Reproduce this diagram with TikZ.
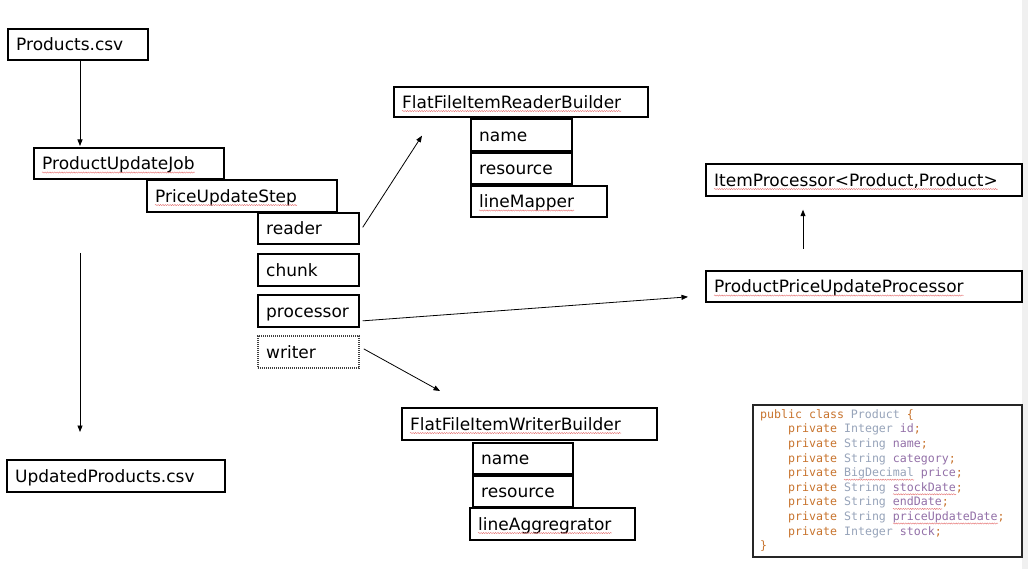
\documentclass[tikz,border=0pt]{standalone}
\usepackage{fontspec}
\setmainfont{DejaVu Sans}
\newfontfamily\codefont{DejaVu Sans Mono}
\usetikzlibrary{arrows.meta,calc,decorations.pathmorphing}
\definecolor{kw}{HTML}{C8742E}
\definecolor{ty}{HTML}{97A4BA}
\definecolor{pu}{HTML}{9370A8}
\definecolor{sqred}{HTML}{E57070}
\newcommand\mkbox[7][]{%
  \node[box,#1,minimum width=#5pt,minimum height=#6pt] (#2) at (#3,#4) {};
  \node[lbl] (#2t) at ([xshift=9pt]#2.west) {#7};}
\newcommand\sq[1]{\draw[spell] ([yshift=-3pt]#1.base west) -- ([yshift=-3pt]#1.base east);}
\newcommand\cl[3]{\node[codeline] (c#1) at (#2,418.3+14.6*#1) {#3};}
\begin{document}
\begin{tikzpicture}[x=1pt,y=-1pt,
  box/.style={draw=black,line width=1.7pt,inner sep=0pt,anchor=north west},
  dotbox/.style={draw=black!75,dash pattern=on 1.2pt off 0.8pt},
  lbl/.style={inner sep=0pt,anchor=west,font=\fontsize{17}{20}\selectfont,text height=12.4pt,text depth=0pt},
  codeline/.style={inner sep=0pt,anchor=base west,font=\codefont\fontsize{11.6}{14}\selectfont},
  arr/.style={-{Triangle[length=6.5pt,width=5pt]},line width=0.8pt},
  spell/.style={draw=sqred,line width=0.4pt,decorate,decoration={snake,amplitude=0.6pt,segment length=2.4pt}}]
\useasboundingbox (0,0) rectangle (1028,569);
\fill[white] (0,0) rectangle (1028,569);
\fill[black!6] (1021.5,0) rectangle (1028,569);

% left column
\mkbox{csv}{7}{28}{140}{31}{Products.csv}
\mkbox{job}{33}{147}{190}{31}{ProductUpdateJob}
\mkbox{step}{146}{179}{190}{32}{PriceUpdateStep}
\mkbox{reader}{257}{212}{101}{31}{reader}
\mkbox{chunk}{257}{253}{101}{32}{chunk}
\mkbox{proc}{257}{294}{101}{32}{processor}
\mkbox[dotbox]{writer}{257}{335}{101}{32}{writer}
\mkbox{upd}{6}{459}{218}{32}{UpdatedProducts.csv}

% reader builder
\mkbox{rb}{393}{86}{254}{30}{FlatFileItemReaderBuilder}
\mkbox{rname}{470}{118}{101}{32}{name}
\mkbox{rres}{470}{152}{101}{31}{resource}
\mkbox{rmap}{470}{185}{136}{31}{lineMapper}

% writer builder
\mkbox{wb}{401}{407}{255}{32}{FlatFileItemWriterBuilder}
\mkbox{wname}{472}{442}{100}{31}{name}
\mkbox{wres}{472}{475}{100}{31}{resource}
\mkbox{wagg}{469}{507}{165}{32}{lineAggregrator}

% processor
\mkbox{ip}{705}{163}{316}{32}{ItemProcessor<Product,Product>}
\mkbox{ppup}{705}{270}{316}{31}{ProductPriceUpdateProcessor}

% spelling marks
\sq{jobt}\sq{stept}\sq{rbt}\sq{rmapt}\sq{wbt}\sq{waggt}\sq{ipt}\sq{ppupt}

% code box
\node[box,draw=black!85,line width=2.4pt,minimum width=269pt,minimum height=152pt] (code) at (752,404) {};
\cl{0}{760}{\color{kw}public class \color{ty}Product \color{kw}\{}
\cl{1}{788}{\color{kw}private \color{ty}Integer \color{pu}id\color{kw};}
\cl{2}{788}{\color{kw}private \color{ty}String \color{pu}name\color{kw};}
\cl{3}{788}{\color{kw}private \color{ty}String \color{pu}category\color{kw};}
\cl{4}{788}{\color{kw}private \color{ty}BigDecimal \color{pu}price\color{kw};}
\cl{5}{788}{\color{kw}private \color{ty}String \color{pu}stockDate\color{kw};}
\cl{6}{788}{\color{kw}private \color{ty}String \color{pu}endDate\color{kw};}
\cl{7}{788}{\color{kw}private \color{ty}String \color{pu}priceUpdateDate\color{kw};}
\cl{8}{788}{\color{kw}private \color{ty}Integer \color{pu}stock\color{kw};}
\cl{9}{760}{\color{kw}\}}
\draw[spell] ($(c4.base west)+(56,3)$) -- ++(70,0);
\draw[spell] ($(c5.base west)+(105,3)$) -- ++(63,0);
\draw[spell] ($(c6.base west)+(105,3)$) -- ++(49,0);
\draw[spell] ($(c7.base west)+(105,3)$) -- ++(105,0);

% connectors
\draw[arr] ($(csv.south west)+(73,0)$) -- ($(job.north west)+(47,-1)$);
\coordinate (d1) at (80,253);
\draw[arr] (d1) -- ($(upd.north west)+(74,-27)$);
\draw[arr] ($(reader.east)+(3,-1)$) -- ($(rb.south west)+(29,18)$);
\draw[arr] ($(proc.east)+(3,10)$) -- ($(ppup.west)+(-17,10.5)$);
\draw[arr] ($(writer.east)+(4,-3)$) -- ($(wb.north west)+(39,-16)$);
\draw[arr] ($(ppup.north west)+(98,-21)$) -- ($(ip.south west)+(98,13)$);
\end{tikzpicture}
\end{document}
